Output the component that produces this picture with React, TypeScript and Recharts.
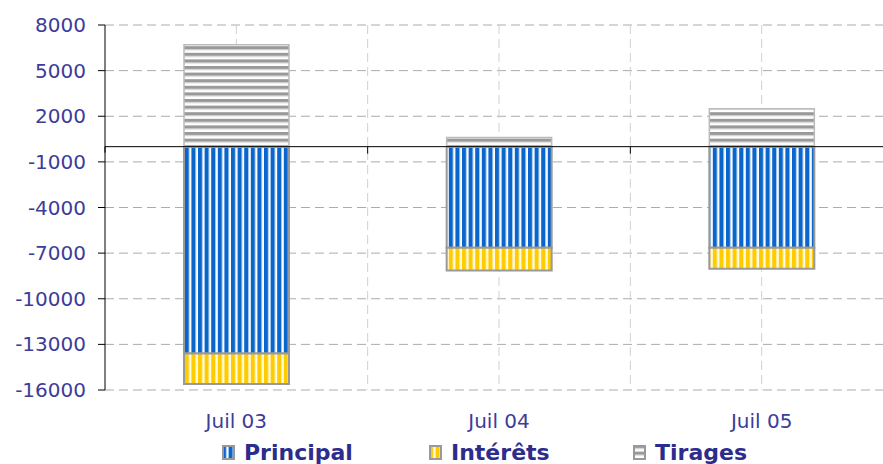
import { BarChart, Bar, XAxis, YAxis, CartesianGrid, ReferenceLine, Legend } from 'recharts';

const months = ['Juil 03', 'Juil 04', 'Juil 05'];
const principal = [-13600, -6650, -6650];
const interets = [-2000, -1500, -1370];
const tirages = [6700, 600, 2500];
const yTicks = [8000, 5000, 2000, -1000, -4000, -7000, -10000, -13000, -16000];

const seriesNames = ['Principal', 'Intérêts', 'Tirages'];
const patternIds = ['stripeBlue', 'stripeYellow', 'stripeGray'];

const data = months.map((month, i) => ({
  month,
  principal: principal[i],
  interets: interets[i],
  tirages: tirages[i],
}));

const labelColor = '#3c3c9a';
const font = '"DejaVu Sans", Verdana, sans-serif';

// zero line with small ticks at the category boundaries
const ZeroLine = (props: any) => {
  const { x1, y1, x2, y2 } = props;
  if (x1 == null) return null;
  const step = (x2 - x1) / months.length;
  return (
    <g>
      <line x1={x1} y1={y1} x2={x2} y2={y2} stroke="#000" strokeWidth={1} />
      {months.map((_, i) => (
        <line key={i} x1={x1 + (i + 1) * step} y1={y1} x2={x1 + (i + 1) * step} y2={y1 + 7} stroke="#000" />
      ))}
      <line x1={x1} y1={y1} x2={x1} y2={y1 + 6} stroke="#000" />
    </g>
  );
};

const LegendContent = () => (
  <div style={{ display: 'flex', paddingLeft: 222, fontFamily: font }}>
    {seriesNames.map((name, i) => (
      <div key={name} style={{ display: 'flex', alignItems: 'center', width: i === 0 ? 207 : 204 }}>
        <svg width={13} height={15} style={{ marginRight: 9 }}>
          <rect x={1} y={1} width={11} height={13} fill={`url(#${patternIds[i]})`} stroke="#999" strokeWidth={2} />
        </svg>
        <span style={{ color: '#2c2c8c', fontWeight: 'bold', fontSize: 22 }}>{name}</span>
      </div>
    ))}
  </div>
);

export default function App() {
  return (
    <div style={{ position: 'absolute', left: 0, top: 0, width: 883, height: 464, overflow: 'hidden', background: '#fff' }}>
      <BarChart
        width={900}
        height={464}
        data={data}
        stackOffset="sign"
        margin={{ top: 25, right: 7, bottom: 44, left: 0 }}
      >
        <defs>
          <pattern id="stripeBlue" patternUnits="userSpaceOnUse" width={6.6} height={10}>
            <rect width={6.6} height={10} fill="#ffffff" />
            <rect x={0} width={4} height={10} fill="#0a66cc" />
            <rect x={4} width={0.8} height={10} fill="#8fb8e8" />
          </pattern>
          <pattern id="stripeYellow" patternUnits="userSpaceOnUse" width={6.6} height={10}>
            <rect width={6.6} height={10} fill="#fffbe8" />
            <rect x={0} width={4} height={10} fill="#ffcc00" />
            <rect x={4} width={0.8} height={10} fill="#ffe680" />
          </pattern>
          <pattern id="stripeGray" patternUnits="userSpaceOnUse" width={10} height={6.6}>
            <rect width={10} height={6.6} fill="#ffffff" />
            <rect y={0} width={10} height={3.3} fill="#999999" />
            <rect y={3.3} width={10} height={0.8} fill="#d0d0d0" />
          </pattern>
        </defs>
        <CartesianGrid vertical={false} stroke="#ababab" strokeDasharray="9 5" />
        <CartesianGrid
          horizontal={false}
          stroke="#d0d0d0"
          strokeDasharray="9 5"
          verticalCoordinatesGenerator={({ offset }: any) =>
            [1, 2, 3, 4, 5].map((k) => offset.left + (k * offset.width) / 6)
          }
        />
        <XAxis
          dataKey="month"
          axisLine={false}
          tickLine={false}
          height={30}
          dy={16}
          tick={{ fill: labelColor, fontSize: 20, fontFamily: font }}
        />
        <YAxis
          type="number"
          domain={[-16000, 8000]}
          ticks={yTicks}
          interval={0}
          width={105}
          axisLine={{ stroke: '#000' }}
          tickLine={{ stroke: '#000' }}
          tickSize={7}
          tickMargin={12}
          tick={{ fill: labelColor, fontSize: 20, fontFamily: font }}
        />
        <Bar dataKey="principal" name={seriesNames[0]} stackId="a" barSize={105} fill="url(#stripeBlue)" stroke="#999" strokeWidth={2} isAnimationActive={false} />
        <Bar dataKey="interets" name={seriesNames[1]} stackId="a" barSize={105} fill="url(#stripeYellow)" stroke="#999" strokeWidth={2} isAnimationActive={false} />
        <Bar dataKey="tirages" name={seriesNames[2]} stackId="a" barSize={105} fill="url(#stripeGray)" stroke="#bbb" strokeWidth={1.5} isAnimationActive={false} />
        <ReferenceLine y={0} shape={ZeroLine} />
        <Legend
          verticalAlign="middle"
          align="center"
          content={LegendContent}
          wrapperStyle={{ top: 440, left: 0, width: 883 }}
        />
      </BarChart>
    </div>
  );
}
